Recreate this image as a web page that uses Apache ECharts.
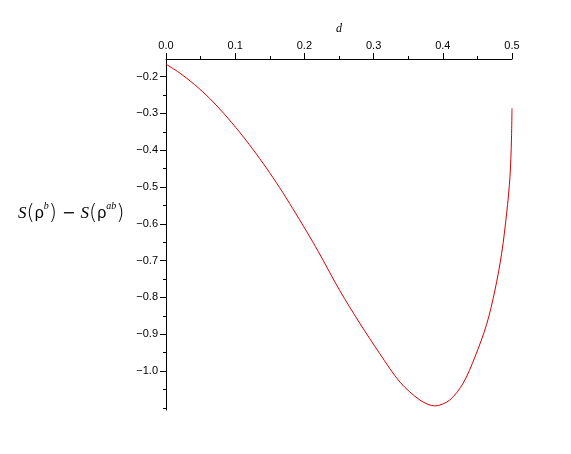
<!DOCTYPE html>
<html>
<head>
<meta charset="utf-8">
<style>
	html, body { margin: 0; padding: 0; background: #fff; }
	#chart { width: 571px; height: 454px; }
</style>
<script src="https://cdn.jsdelivr.net/npm/echarts@6/dist/echarts.min.js"></script>
</head>
<body>
<div id="chart"></div>
<script>
// d values along the curve
const dVals = [0, 0.019, 0.041, 0.063, 0.084, 0.106, 0.125, 0.145, 0.164, 0.183, 0.203, 0.22,
	0.251, 0.28, 0.309, 0.338, 0.367, 0.3885, 0.41, 0.4295, 0.4464, 0.4634, 0.4754, 0.4851,
	0.4923, 0.4971, 0.4992, 0.5];
// S(rho^b) - S(rho^ab)
const sVals = [-0.166, -0.189, -0.221, -0.259, -0.301, -0.350, -0.396, -0.448, -0.501, -0.558, -0.620, -0.675,
	-0.781, -0.870, -0.953, -1.030, -1.079, -1.095, -1.079, -1.033, -0.962, -0.873, -0.78, -0.68,
	-0.571, -0.472, -0.372, -0.286];
// tick labels
const xTicks = [0, 0.1, 0.2, 0.3, 0.4, 0.5];
const yTicks = [-1.0, -0.9, -0.8, -0.7, -0.6, -0.5, -0.4, -0.3, -0.2];
const yMinorTicks = [-1.1, -1.05, -0.95, -0.85, -0.75, -0.65, -0.55, -0.45, -0.35, -0.25, -0.15];

const chart = echarts.init(document.getElementById("chart"));

const option = {
	backgroundColor: "#fff",
	animation: false,
	grid: { left: 166, right: 59, top: 59, bottom: 44 },
	xAxis: {
		type: "value",
		position: "top",
		min: 0,
		max: 0.5,
		interval: 0.1,
		name: "d",
		nameLocation: "middle",
		nameGap: 22,
		nameTextStyle: { fontStyle: "italic", fontFamily: "Liberation Serif", fontSize: 12, color: "#000" },
		axisLine: { onZero: false, lineStyle: { color: "#000", width: 1 } },
		axisTick: { show: true, length: 6, lineStyle: { color: "#000" } },
		minorTick: { show: true, splitNumber: 2, length: 3, lineStyle: { color: "#000" } },
		splitLine: { show: false },
		axisLabel: {
			color: "#000",
			fontFamily: "Liberation Sans",
			fontSize: 11,
			margin: 8,
			formatter: (v) => v.toFixed(1),
		},
	},
	yAxis: [
		{
			type: "value",
			min: -1.106,
			max: -0.152,
			axisLine: { onZero: false, lineStyle: { color: "#000", width: 1 } },
			axisTick: { show: true, length: 6, customValues: yTicks, lineStyle: { color: "#000" } },
			splitLine: { show: false },
			axisLabel: {
				customValues: yTicks,
				color: "#000",
				fontFamily: "Liberation Sans",
				fontSize: 11,
				margin: 8,
				formatter: (v) => "\u2212" + Math.abs(v).toFixed(1),
			},
		},
		{
			// minor ticks only
			type: "value",
			position: "left",
			min: -1.106,
			max: -0.152,
			axisLine: { show: false },
			axisTick: { show: true, length: 3, customValues: yMinorTicks, lineStyle: { color: "#000" } },
			axisLabel: { show: false },
			splitLine: { show: false },
		},
	],
	graphic: [
		{
			type: "text",
			left: 18,
			top: 201,
			style: {
				text: "{s|S}{p|(}{r|ρ}{sup|b}{p|)}{m| − }{s|S}{p|(}{r|ρ}{sup|ab}{p|)}",
				fill: "#000",
				rich: {
					s: { fontFamily: "Liberation Serif", fontStyle: "italic", fontSize: 17, lineHeight: 26, verticalAlign: "middle" },
					p: { fontFamily: "DejaVu Sans", fontSize: 21, lineHeight: 26, fontWeight: 200, verticalAlign: "middle" },
					r: { fontFamily: "Liberation Sans", fontSize: 16, lineHeight: 26, verticalAlign: "middle" },
					sup: { fontFamily: "Liberation Serif", fontStyle: "italic", fontSize: 10, lineHeight: 26, verticalAlign: "top" },
					m: { fontFamily: "DejaVu Sans", fontSize: 16, lineHeight: 26, verticalAlign: "middle" },
				},
			},
		},
	],
	series: [
		{
			type: "line",
			data: dVals.map((d, i) => [d, sVals[i]]),
			smooth: 0.3,
			showSymbol: false,
			lineStyle: { color: "#d80000", width: 1 },
		},
	],
};
chart.setOption(option);
</script>
</body>
</html>
